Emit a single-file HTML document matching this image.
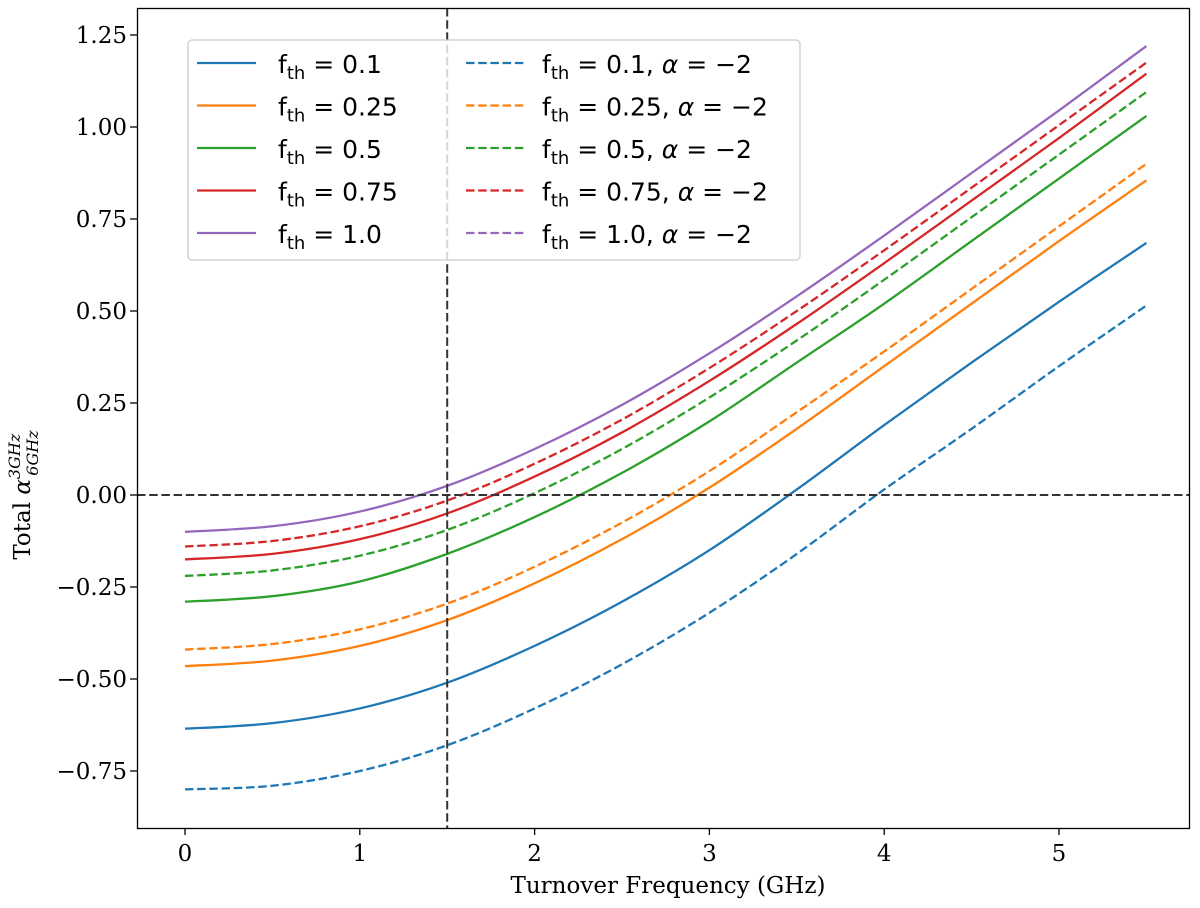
<!DOCTYPE html>
<html><head><meta charset="utf-8"><style>
body{margin:0;background:#fff}
svg text{font-family:"DejaVu Serif","Liberation Serif",serif}
.lg{font-family:"DejaVu Sans","Liberation Sans",sans-serif;font-size:25px}
</style></head><body>
<svg id="c" width="1200" height="903" viewBox="0 0 1200 903" xmlns="http://www.w3.org/2000/svg">
<rect x="0" y="0" width="1200" height="903" fill="#fff"/>
<g id="plot"></g>
<rect x="137.5" y="8.5" width="1052" height="820" fill="none" stroke="#000" stroke-width="1.3"/>
<g id="ticks"></g>
<text x="668" y="893" font-size="23" text-anchor="middle">Turnover Frequency (GHz)</text>
<text transform="translate(30,495) rotate(-90)" font-size="23" text-anchor="middle">Total <tspan font-style="italic">α</tspan><tspan font-size="16" font-style="italic" dy="-10">3GHz</tspan><tspan font-size="16" font-style="italic" dx="-42" dy="18">6GHz</tspan></text>
<g id="legend"></g>
</svg>
<script>
const xs=[0,0.5,1,1.5,2,2.5,3,3.5,4,4.5,5,5.5];
const labels=['0.1','0.25','0.5','0.75','1.0'];
const colors=['#1f77b4','#ff7f0e','#2ca02c','#d62728','#9467bd'];
const solid0=[-0.635,-0.62,-0.58,-0.51,-0.41,-0.29,-0.15,0.015,0.19,0.36,0.525,0.685];
const solid1=[-0.465,-0.45,-0.41,-0.34,-0.24,-0.12,0.02,0.18,0.35,0.52,0.69,0.855];
const solid2=[-0.29,-0.275,-0.235,-0.16,-0.06,0.06,0.20,0.36,0.52,0.69,0.86,1.03];
const solid3=[-0.175,-0.16,-0.12,-0.05,0.05,0.17,0.31,0.465,0.63,0.80,0.97,1.145];
const solid4=[-0.10,-0.085,-0.045,0.025,0.125,0.245,0.385,0.54,0.705,0.875,1.045,1.22];
const dash0=[-0.80,-0.79,-0.75,-0.68,-0.58,-0.46,-0.32,-0.16,0.015,0.18,0.35,0.515];
const dash1=[-0.42,-0.405,-0.365,-0.295,-0.195,-0.075,0.065,0.225,0.39,0.56,0.73,0.90];
const dash2=[-0.22,-0.205,-0.165,-0.095,0.005,0.125,0.265,0.42,0.585,0.755,0.925,1.095];
const dash3=[-0.14,-0.125,-0.085,-0.015,0.085,0.205,0.345,0.50,0.665,0.835,1.005,1.175];
const xTicks=[0,1,2,3,4,5];
const yTicks=[-0.75,-0.5,-0.25,0,0.25,0.5,0.75,1.0,1.25];
const yTickLabels=['−0.75','−0.50','−0.25','0.00','0.25','0.50','0.75','1.00','1.25'];
const vLine=1.5, hLine=0;
const solids=[solid0,solid1,solid2,solid3,solid4];
const dashes=[dash0,dash1,dash2,dash3];
const X=v=>185+v*174.8, Y=v=>495-v*368;
const NS='http://www.w3.org/2000/svg';
function mk(t,a,p){const e=document.createElementNS(NS,t);for(const k in a)e.setAttribute(k,a[k]);p.appendChild(e);return e;}
function path(ys){const p=xs.map((x,i)=>[X(x),Y(ys[i])]);let d='M'+p[0][0]+','+p[0][1];
for(let i=0;i<p.length-1;i++){const a=p[Math.max(0,i-1)],b=p[i],c=p[i+1],e=p[Math.min(p.length-1,i+2)];
d+=` C${b[0]+(c[0]-a[0])/6},${b[1]+(c[1]-a[1])/6} ${c[0]-(e[0]-b[0])/6},${c[1]-(e[1]-b[1])/6} ${c[0]},${c[1]}`;}return d;}
const plot=document.getElementById('plot'),ticks=document.getElementById('ticks'),lg=document.getElementById('legend');
for(let i=0;i<5;i++){
 const s=mk('path',{d:path(solids[i]),fill:'none',stroke:colors[i],'stroke-width':2.3},plot);
 
 
 if(i<4){const d=mk('path',{d:path(dashes[i]),fill:'none',stroke:colors[i],'stroke-width':2.3,'stroke-dasharray':'8.5,3.7'},plot);
 
 }
}
const vl=mk('line',{x1:X(vLine),x2:X(vLine),y1:8,y2:828,stroke:'#333','stroke-width':2,'stroke-dasharray':'8.5,3.7'},plot);


const hl=mk('line',{x1:137,x2:1189,y1:Y(hLine),y2:Y(hLine),stroke:'#333','stroke-width':2,'stroke-dasharray':'8.5,3.7'},plot);


xTicks.forEach(v=>{mk('line',{x1:X(v),x2:X(v),y1:828,y2:835,stroke:'#000','stroke-width':1.3},ticks);
 const t=mk('text',{x:X(v),y:861,'font-size':23,'text-anchor':'middle'},ticks);t.textContent=v;
 
 });
yTicks.forEach((v,i)=>{mk('line',{x1:130,x2:137,y1:Y(v),y2:Y(v),stroke:'#000','stroke-width':1.3},ticks);
 const t=mk('text',{x:127,y:Y(v)+8,'font-size':23,'text-anchor':'end'},ticks);t.textContent=yTickLabels[i];
 
 });
mk('rect',{x:188,y:40,width:612,height:220,rx:4,fill:'#fff','fill-opacity':0.8,stroke:'#ccc','stroke-width':1.3},lg);
for(let i=0;i<5;i++){const y=63+i*42.5;
 mk('line',{x1:197,x2:256,y1:y,y2:y,stroke:colors[i],'stroke-width':2.3},lg);
 mk('line',{x1:466,x2:525,y1:y,y2:y,stroke:colors[i],'stroke-width':2.3,'stroke-dasharray':'8.5,3.7'},lg);
 const t=mk('text',{x:278,y:y+10,class:'lg'},lg);
 t.innerHTML='f<tspan font-size="18" dy="6">th</tspan><tspan dy="-6"> = '+labels[i]+'</tspan>';
 
 
 const t2=mk('text',{x:542,y:y+10,class:'lg'},lg);
 t2.innerHTML='f<tspan font-size="18" dy="6">th</tspan><tspan dy="-6"> = '+labels[i]+', <tspan font-style="italic">α</tspan> = −2</tspan>';
 
 }
</script>
</body></html>
